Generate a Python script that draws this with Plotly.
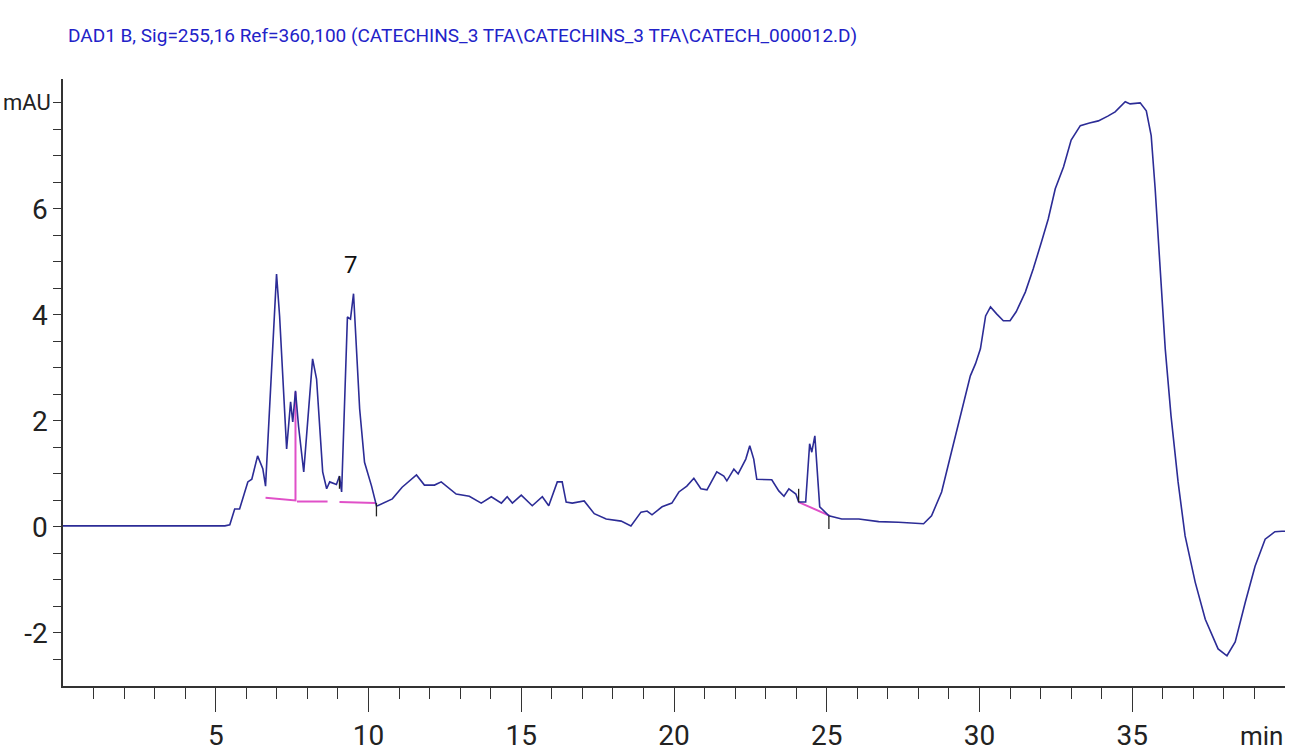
import plotly.graph_objects as go

# ---------------- data ----------------
time_min = [0, 2, 4, 5.3, 5.46, 5.62, 5.78, 6.05, 6.18, 6.37, 6.54, 6.63, 6.99, 7.09, 7.32,
            7.45, 7.52, 7.61, 7.71, 7.88, 8.17, 8.30, 8.50, 8.63, 8.73, 8.95, 9.05, 9.12,
            9.31, 9.41, 9.51, 9.71, 9.87, 10.1, 10.26, 10.3, 10.78, 11.1, 11.57, 11.83,
            12.16, 12.38, 12.87, 13.3, 13.69, 14.02, 14.35, 14.54, 14.71, 15.0, 15.36,
            15.69, 15.9, 16.18, 16.34, 16.47, 16.67, 17.06, 17.39, 17.78, 18.27, 18.59,
            18.92, 19.12, 19.28, 19.61, 19.93, 20.16, 20.42, 20.65, 20.88, 21.08, 21.4,
            21.63, 21.73, 21.96, 22.1, 22.35, 22.48, 22.61, 22.71, 23.2, 23.43, 23.6,
            23.76, 23.99, 24.08, 24.31, 24.44, 24.51, 24.61, 24.67, 24.77, 25.07, 25.49,
            26.05, 26.7, 27.35, 28.17, 28.43, 28.76, 29.08, 29.41, 29.7, 29.87, 30.03,
            30.2, 30.36, 30.56, 30.78, 31.0, 31.2, 31.5, 31.76, 32.03, 32.25, 32.48,
            32.75, 33.0, 33.3, 33.6, 33.89, 34.2, 34.44, 34.77, 34.93, 35.26, 35.46,
            35.62, 35.75, 35.9, 36.08, 36.27, 36.5, 36.73, 37.06, 37.39, 37.81, 38.1,
            38.37, 38.7, 39.02, 39.35, 39.67, 39.9, 40.0]
signal_mau = [0.02, 0.02, 0.02, 0.02, 0.04, 0.34, 0.34, 0.85, 0.9, 1.34, 1.1, 0.77, 4.77, 3.98, 1.47,
              2.36, 1.98, 2.57, 1.9, 1.04, 3.17, 2.79, 1.04, 0.72, 0.85, 0.8, 0.96, 0.66,
              3.96, 3.92, 4.4, 2.23, 1.22, 0.77, 0.4, 0.4, 0.53, 0.75, 0.98, 0.79,
              0.79, 0.85, 0.62, 0.58, 0.45, 0.57, 0.45, 0.57, 0.45, 0.6, 0.4,
              0.57, 0.4, 0.85, 0.85, 0.47, 0.45, 0.49, 0.25, 0.15, 0.11, 0.02,
              0.28, 0.3, 0.23, 0.38, 0.45, 0.66, 0.77, 0.92, 0.72, 0.7, 1.04,
              0.96, 0.87, 1.09, 1.0, 1.28, 1.53, 1.28, 0.9, 0.89, 0.68, 0.58,
              0.72, 0.62, 0.47, 0.47, 1.57, 1.41, 1.72, 1.15, 0.38, 0.21, 0.15,
              0.15, 0.1, 0.09, 0.06, 0.21, 0.66, 1.41, 2.17, 2.85, 3.08, 3.36,
              3.98, 4.15, 4.02, 3.89, 3.89, 4.06, 4.43, 4.87, 5.38, 5.81, 6.38,
              6.79, 7.3, 7.57, 7.62, 7.66, 7.75, 7.83, 8.02, 7.98, 8.0, 7.85,
              7.38, 6.38, 5.0, 3.36, 2.09, 0.85, -0.17, -1.04, -1.74, -2.3, -2.43,
              -2.17, -1.42, -0.74, -0.23, -0.09, -0.08, -0.08]

# integration baselines (pink), None separates segments
baseline_t = [6.63, 7.61, 7.61, None, 7.66, 8.66, None, 9.05, 10.22, None, 24.08, 25.1]
baseline_v = [0.55, 0.50, 2.55, None, 0.48, 0.48, None, 0.47, 0.45, None, 0.47, 0.21]

# peak boundary markers (black)
marker_t = [9.05, 9.05, None, 10.26, 10.26, None, 24.08, 24.08, None, 25.07, 25.07]
marker_v = [0.96, 0.72, None, 0.45, 0.20, None, 0.72, 0.47, None, 0.21, -0.04]

peak_label = "7"
peak_label_t = 9.42
peak_label_v = 4.95

title_text = "DAD1 B, Sig=255,16 Ref=360,100 (CATECHINS_3 TFA\\CATECHINS_3 TFA\\CATECH_000012.D)"
y_tickvals = [-2, 0, 2, 4, 6, 8]
y_ticktext = ["-2", "0", "2", "4", "6", ""]
y_unit_label = "mAU"
y_unit_value = 8
x_tickvals = [5, 10, 15, 20, 25, 30, 35]
x_unit_label = "min"
x_minor = [v for v in range(1, 40) if v % 5 != 0]
y_minor = [v / 2 for v in range(-5, 16) if v % 4 != 0]

FONT = "Roboto, Liberation Sans, sans-serif"

fig = go.Figure()
fig.add_trace(go.Scatter(x=baseline_t, y=baseline_v, mode="lines",
                         line=dict(color="#e050c8", width=2), connectgaps=False,
                         hoverinfo="skip", showlegend=False))
fig.add_trace(go.Scatter(x=time_min, y=signal_mau, mode="lines",
                         line=dict(color="#2c2c96", width=1.6), showlegend=False))
fig.add_trace(go.Scatter(x=marker_t, y=marker_v, mode="lines",
                         line=dict(color="#222222", width=1.3), connectgaps=False,
                         hoverinfo="skip", showlegend=False))

fig.add_annotation(x=peak_label_t, y=peak_label_v, text=peak_label, showarrow=False,
                   font=dict(family=FONT, size=24, color="#111111"), yanchor="middle")
fig.add_annotation(xref="paper", yref="paper", x=1, y=0, yshift=-50, text=x_unit_label,
                   showarrow=False, xanchor="right", yanchor="middle",
                   font=dict(family=FONT, size=26, color="#222222"))
fig.add_annotation(xref="paper", yref="y", x=0, y=y_unit_value, xshift=-10,
                   text=y_unit_label, showarrow=False, xanchor="right", yanchor="middle",
                   font=dict(family=FONT, size=22, color="#222222"))

fig.update_layout(
    width=1298, height=754,
    margin=dict(l=63, r=13, t=79, b=68),
    paper_bgcolor="white", plot_bgcolor="white",
    title=dict(text=title_text, x=68 / 1298, xanchor="left", xref="container",
               y=1 - 35 / 754, yanchor="middle", yref="container",
               font=dict(family=FONT, size=19, color="#2222c8")),
    font=dict(family=FONT, size=28, color="#222222"),
    xaxis=dict(range=[0, 40], showgrid=False, zeroline=False, showline=True,
               automargin=False,
               linecolor="#333333", linewidth=1.5, ticks="outside", ticklen=24,
               tickwidth=1.3, tickcolor="#333333", tickvals=x_tickvals,
               ticklabelstandoff=0,
               minor=dict(tickvals=x_minor, ticks="outside", ticklen=11,
                          tickwidth=1.3, tickcolor="#333333", showgrid=False)),
    yaxis=dict(range=[-3, 8.45], showgrid=False, zeroline=False, showline=True,
               automargin=False,
               linecolor="#333333", linewidth=1.5, ticks="outside", ticklen=8,
               tickwidth=1.3, tickcolor="#333333", tickvals=y_tickvals,
               ticktext=y_ticktext,
               minor=dict(tickvals=y_minor, ticks="outside", ticklen=8,
                          tickwidth=1.3, tickcolor="#333333", showgrid=False)),
)

fig.write_html("out.html")
